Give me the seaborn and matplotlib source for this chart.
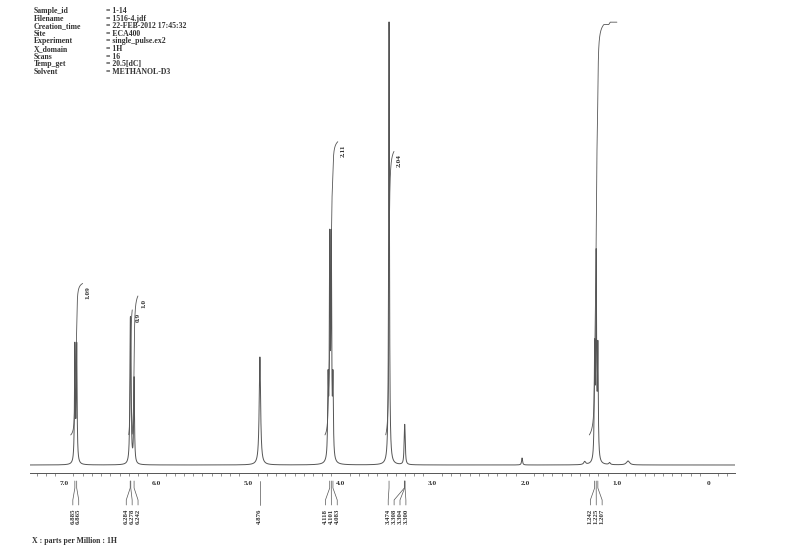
import numpy as np
import pandas as pd
import matplotlib
matplotlib.use("Agg")
import matplotlib.pyplot as plt
import matplotlib.transforms as mtransforms
import seaborn as sns

# ---------------- data ----------------
header_keys = ["Sample_id", "Filename", "Creation_time", "Site", "Experiment",
               "X_domain", "Scans", "Temp_get", "Solvent"]
header_vals = ["= 1-14", "= 1516-4.jdf", "= 22-FEB-2012 17:45:32", "= ECA400",
               "= single_pulse.ex2", "= 1H", "= 16", "= 20.5[dC]", "= METHANOL-D3"]

# peak list (ppm, intensity, half width in ppm)
peak_ppm = [6.885, 6.865, 6.284, 6.278, 6.242, 4.876, 4.136, 4.118, 4.101, 4.083,
            3.474, 3.308, 3.304, 3.300, 2.03, 1.35, 1.242, 1.225, 1.207, 1.08, 0.88]
peak_height = [116, 116, 100, 100, 85, 108, 75, 212, 212, 75,
               443, 15, 22, 15, 7, 3, 108, 200, 108, 2, 4]
peak_hwhm = [0.005, 0.005, 0.005, 0.005, 0.005, 0.009, 0.005, 0.005, 0.005, 0.005,
             0.005, 0.005, 0.005, 0.005, 0.006, 0.012, 0.005, 0.005, 0.005, 0.01, 0.02]

# integral regions
int_start = [6.93, 6.30, 6.262, 4.17, 3.51, 1.30]
int_end = [6.80, 6.262, 6.20, 4.03, 3.42, 1.00]
int_value = [1.09, 0.9, 1.0, 2.11, 2.04, 2.97]
int_label = ["1.09", "0.9", "1.0", "2.11", "2.04", ""]

# peak picking groups
pick_groups = [[6.885, 6.865], [6.284, 6.278, 6.242], [4.876],
               [4.118, 4.101, 4.083], [3.474, 3.308, 3.304, 3.300],
               [1.242, 1.225, 1.207]]

major_ticks = [7.0, 6.0, 5.0, 4.0, 3.0, 2.0, 1.0, 0.0]
major_labels = ["7.0", "6.0", "5.0", "4.0", "3.0", "2.0", "1.0", "0"]
x_label = "X : parts per Million : 1H"

# ---------------- build spectrum ----------------
grid = np.linspace(7.372, -0.282, 16000)
spec = np.zeros_like(grid)
for p, h, w in zip(peak_ppm, peak_height, peak_hwhm):
    spec += h / (1.0 + ((grid - p) / w) ** 2)
df = pd.DataFrame({"ppm": grid, "intensity": spec})

sns.set_style("white")
plt.rcParams["font.family"] = ["Liberation Serif", "DejaVu Serif"]
plt.rcParams["font.weight"] = "bold"

W, H = 800, 558
fig = plt.figure(figsize=(W / 100, H / 100), dpi=100)
ax = fig.add_axes([30 / W, (H - 473) / H, 705 / W, 473 / H])
ax.set_facecolor("none")

line_col = "#555555"
sns.lineplot(data=df, x="ppm", y="intensity", ax=ax, estimator=None, sort=False,
             color=line_col, linewidth=0.7)

# integrals
PX_PER_UNIT = 139.0
INT_BASE = 30.0
for s, e, v, lab in zip(int_start, int_end, int_value, int_label):
    m = (grid <= s) & (grid >= e)
    seg = spec[m]
    core = np.where(seg > 0.008 * seg.max(), seg, 0.0)
    cum = np.cumsum(core)
    cum = cum / cum[-1]
    yint = INT_BASE + cum * v * PX_PER_UNIT
    sns.lineplot(x=grid[m], y=yint, ax=ax, estimator=None, sort=False,
                 color=line_col, linewidth=0.6)
    if lab:
        ax.text(e - 0.06, yint[-1] - 3, lab, rotation=90, ha="center", va="top",
                fontsize=5.2, color="#333333", fontweight="bold")

ax.set_xlim(7.372, -0.282)
ax.set_ylim(-8, 465)
ax.set_xlabel("")
ax.set_ylabel("")
for sp in ["top", "left", "right"]:
    ax.spines[sp].set_visible(False)
ax.spines["bottom"].set_color("#555555")
ax.spines["bottom"].set_linewidth(0.7)
ax.set_yticks([])
ax.set_xticks(major_ticks, major_labels)
ax.set_xticks(np.arange(-0.2, 7.35, 0.1), minor=True)
ax.tick_params(axis="x", which="major", direction="out", length=3.5, width=0.6,
               color="#555555", labelsize=5.3, labelcolor="#333333", pad=2.5)
ax.tick_params(axis="x", which="minor", direction="out", length=1.8, width=0.5,
               color="#666666", bottom=True)

# peak picking labels below the axis
trans = mtransforms.blended_transform_factory(ax.transData, fig.transFigure)
def fy(p):
    return 1 - p / H

SPACING = 0.064
for grp in pick_groups:
    center = (max(grp) + min(grp)) / 2
    n = len(grp)
    for i, p in enumerate(grp):
        lx = center + SPACING * ((n - 1) / 2 - i)
        ax.plot([p, p, lx, lx], [fy(481), fy(488), fy(500), fy(505)],
                transform=trans, clip_on=False, color="#555555", linewidth=0.5)
        ax.text(lx, fy(509), f"{p:.3f}", transform=trans, rotation=90,
                ha="center", va="top", fontsize=4.9, color="#333333",
                fontweight="bold")

fig.text(32 / W, fy(541), x_label, ha="left", va="center", fontsize=5.6,
         color="#333333", fontweight="bold")

# header block
for i, (k, v) in enumerate(zip(header_keys, header_vals)):
    y = fy(11 + i * 7.6)
    fig.text(34 / W, y, k, ha="left", va="center", fontsize=5.6, color="#333333",
             fontweight="bold")
    fig.text(106 / W, y, v, ha="left", va="center", fontsize=5.6, color="#333333",
             fontweight="bold")

fig.savefig("out.png", dpi=100, facecolor="white")
